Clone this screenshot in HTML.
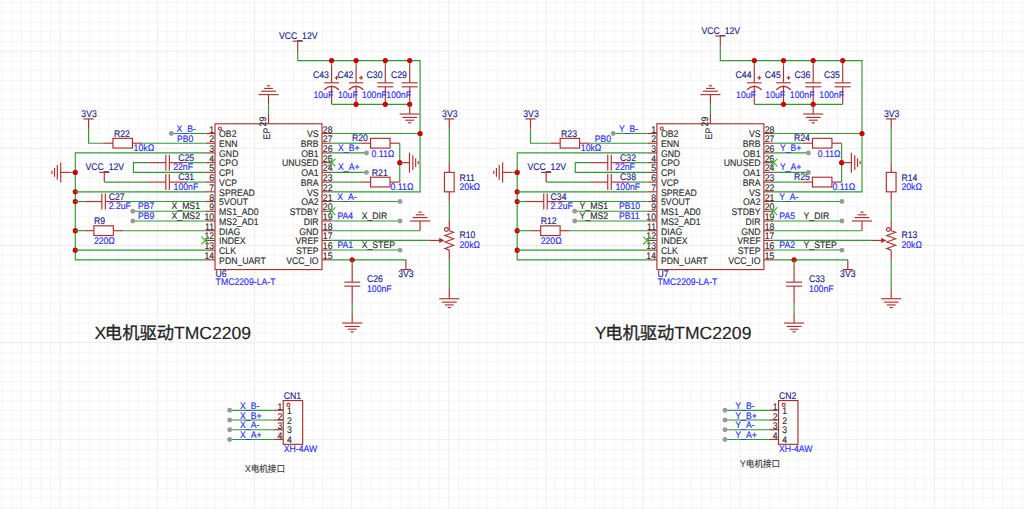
<!DOCTYPE html>
<html><head><meta charset="utf-8"><title>TMC2209 schematic</title>
<style>
html,body{margin:0;padding:0;background:#fff;}
body{width:1024px;height:509px;overflow:hidden;}
svg{display:block;}
text{font-family:"Liberation Sans",sans-serif;font-size:8.7px;stroke-width:0.12px;text-rendering:geometricPrecision;}
text.cjk{font-family:"Liberation Sans","Noto Sans CJK SC",sans-serif;}
</style></head><body>
<svg width="1024" height="509" viewBox="0 0 1024 509">
<rect width="1024" height="509" fill="#fff"/>
<g fill="none"><path d="M2.02 0V509" stroke="#f5f5f5" stroke-width="1"/><path d="M11.74 0V509" stroke="#f5f5f5" stroke-width="1"/><path d="M21.45 0V509" stroke="#f5f5f5" stroke-width="1"/><path d="M31.16 0V509" stroke="#f5f5f5" stroke-width="1"/><path d="M40.87 0V509" stroke="#f5f5f5" stroke-width="1"/><path d="M50.59 0V509" stroke="#f5f5f5" stroke-width="1"/><path d="M60.3 0V509" stroke="#ededed" stroke-width="1"/><path d="M70.01 0V509" stroke="#f5f5f5" stroke-width="1"/><path d="M79.73 0V509" stroke="#f5f5f5" stroke-width="1"/><path d="M89.44 0V509" stroke="#f5f5f5" stroke-width="1"/><path d="M99.15 0V509" stroke="#f5f5f5" stroke-width="1"/><path d="M108.86 0V509" stroke="#f5f5f5" stroke-width="1"/><path d="M118.58 0V509" stroke="#f5f5f5" stroke-width="1"/><path d="M128.29 0V509" stroke="#f5f5f5" stroke-width="1"/><path d="M138 0V509" stroke="#f5f5f5" stroke-width="1"/><path d="M147.72 0V509" stroke="#f5f5f5" stroke-width="1"/><path d="M157.43 0V509" stroke="#ededed" stroke-width="1"/><path d="M167.14 0V509" stroke="#f5f5f5" stroke-width="1"/><path d="M176.86 0V509" stroke="#f5f5f5" stroke-width="1"/><path d="M186.57 0V509" stroke="#f5f5f5" stroke-width="1"/><path d="M196.28 0V509" stroke="#f5f5f5" stroke-width="1"/><path d="M205.99 0V509" stroke="#f5f5f5" stroke-width="1"/><path d="M215.71 0V509" stroke="#f5f5f5" stroke-width="1"/><path d="M225.42 0V509" stroke="#f5f5f5" stroke-width="1"/><path d="M235.13 0V509" stroke="#f5f5f5" stroke-width="1"/><path d="M244.85 0V509" stroke="#f5f5f5" stroke-width="1"/><path d="M254.56 0V509" stroke="#ededed" stroke-width="1"/><path d="M264.27 0V509" stroke="#f5f5f5" stroke-width="1"/><path d="M273.99 0V509" stroke="#f5f5f5" stroke-width="1"/><path d="M283.7 0V509" stroke="#f5f5f5" stroke-width="1"/><path d="M293.41 0V509" stroke="#f5f5f5" stroke-width="1"/><path d="M303.12 0V509" stroke="#f5f5f5" stroke-width="1"/><path d="M312.84 0V509" stroke="#f5f5f5" stroke-width="1"/><path d="M322.55 0V509" stroke="#f5f5f5" stroke-width="1"/><path d="M332.26 0V509" stroke="#f5f5f5" stroke-width="1"/><path d="M341.98 0V509" stroke="#f5f5f5" stroke-width="1"/><path d="M351.69 0V509" stroke="#ededed" stroke-width="1"/><path d="M361.4 0V509" stroke="#f5f5f5" stroke-width="1"/><path d="M371.12 0V509" stroke="#f5f5f5" stroke-width="1"/><path d="M380.83 0V509" stroke="#f5f5f5" stroke-width="1"/><path d="M390.54 0V509" stroke="#f5f5f5" stroke-width="1"/><path d="M400.26 0V509" stroke="#f5f5f5" stroke-width="1"/><path d="M409.97 0V509" stroke="#f5f5f5" stroke-width="1"/><path d="M419.68 0V509" stroke="#f5f5f5" stroke-width="1"/><path d="M429.39 0V509" stroke="#f5f5f5" stroke-width="1"/><path d="M439.11 0V509" stroke="#f5f5f5" stroke-width="1"/><path d="M448.82 0V509" stroke="#ededed" stroke-width="1"/><path d="M458.53 0V509" stroke="#f5f5f5" stroke-width="1"/><path d="M468.25 0V509" stroke="#f5f5f5" stroke-width="1"/><path d="M477.96 0V509" stroke="#f5f5f5" stroke-width="1"/><path d="M487.67 0V509" stroke="#f5f5f5" stroke-width="1"/><path d="M497.39 0V509" stroke="#f5f5f5" stroke-width="1"/><path d="M507.1 0V509" stroke="#f5f5f5" stroke-width="1"/><path d="M516.81 0V509" stroke="#f5f5f5" stroke-width="1"/><path d="M526.52 0V509" stroke="#f5f5f5" stroke-width="1"/><path d="M536.24 0V509" stroke="#f5f5f5" stroke-width="1"/><path d="M545.95 0V509" stroke="#ededed" stroke-width="1"/><path d="M555.66 0V509" stroke="#f5f5f5" stroke-width="1"/><path d="M565.38 0V509" stroke="#f5f5f5" stroke-width="1"/><path d="M575.09 0V509" stroke="#f5f5f5" stroke-width="1"/><path d="M584.8 0V509" stroke="#f5f5f5" stroke-width="1"/><path d="M594.52 0V509" stroke="#f5f5f5" stroke-width="1"/><path d="M604.23 0V509" stroke="#f5f5f5" stroke-width="1"/><path d="M613.94 0V509" stroke="#f5f5f5" stroke-width="1"/><path d="M623.65 0V509" stroke="#f5f5f5" stroke-width="1"/><path d="M633.37 0V509" stroke="#f5f5f5" stroke-width="1"/><path d="M643.08 0V509" stroke="#ededed" stroke-width="1"/><path d="M652.79 0V509" stroke="#f5f5f5" stroke-width="1"/><path d="M662.51 0V509" stroke="#f5f5f5" stroke-width="1"/><path d="M672.22 0V509" stroke="#f5f5f5" stroke-width="1"/><path d="M681.93 0V509" stroke="#f5f5f5" stroke-width="1"/><path d="M691.64 0V509" stroke="#f5f5f5" stroke-width="1"/><path d="M701.36 0V509" stroke="#f5f5f5" stroke-width="1"/><path d="M711.07 0V509" stroke="#f5f5f5" stroke-width="1"/><path d="M720.78 0V509" stroke="#f5f5f5" stroke-width="1"/><path d="M730.5 0V509" stroke="#f5f5f5" stroke-width="1"/><path d="M740.21 0V509" stroke="#ededed" stroke-width="1"/><path d="M749.92 0V509" stroke="#f5f5f5" stroke-width="1"/><path d="M759.64 0V509" stroke="#f5f5f5" stroke-width="1"/><path d="M769.35 0V509" stroke="#f5f5f5" stroke-width="1"/><path d="M779.06 0V509" stroke="#f5f5f5" stroke-width="1"/><path d="M788.77 0V509" stroke="#f5f5f5" stroke-width="1"/><path d="M798.49 0V509" stroke="#f5f5f5" stroke-width="1"/><path d="M808.2 0V509" stroke="#f5f5f5" stroke-width="1"/><path d="M817.91 0V509" stroke="#f5f5f5" stroke-width="1"/><path d="M827.63 0V509" stroke="#f5f5f5" stroke-width="1"/><path d="M837.34 0V509" stroke="#ededed" stroke-width="1"/><path d="M847.05 0V509" stroke="#f5f5f5" stroke-width="1"/><path d="M856.77 0V509" stroke="#f5f5f5" stroke-width="1"/><path d="M866.48 0V509" stroke="#f5f5f5" stroke-width="1"/><path d="M876.19 0V509" stroke="#f5f5f5" stroke-width="1"/><path d="M885.9 0V509" stroke="#f5f5f5" stroke-width="1"/><path d="M895.62 0V509" stroke="#f5f5f5" stroke-width="1"/><path d="M905.33 0V509" stroke="#f5f5f5" stroke-width="1"/><path d="M915.04 0V509" stroke="#f5f5f5" stroke-width="1"/><path d="M924.76 0V509" stroke="#f5f5f5" stroke-width="1"/><path d="M934.47 0V509" stroke="#ededed" stroke-width="1"/><path d="M944.18 0V509" stroke="#f5f5f5" stroke-width="1"/><path d="M953.9 0V509" stroke="#f5f5f5" stroke-width="1"/><path d="M963.61 0V509" stroke="#f5f5f5" stroke-width="1"/><path d="M973.32 0V509" stroke="#f5f5f5" stroke-width="1"/><path d="M983.03 0V509" stroke="#f5f5f5" stroke-width="1"/><path d="M992.75 0V509" stroke="#f5f5f5" stroke-width="1"/><path d="M1002.46 0V509" stroke="#f5f5f5" stroke-width="1"/><path d="M1012.17 0V509" stroke="#f5f5f5" stroke-width="1"/><path d="M1021.89 0V509" stroke="#f5f5f5" stroke-width="1"/><path d="M0 2.64H1024" stroke="#f5f5f5" stroke-width="1"/><path d="M0 12.35H1024" stroke="#f5f5f5" stroke-width="1"/><path d="M0 22.06H1024" stroke="#f5f5f5" stroke-width="1"/><path d="M0 31.77H1024" stroke="#f5f5f5" stroke-width="1"/><path d="M0 41.49H1024" stroke="#f5f5f5" stroke-width="1"/><path d="M0 51.2H1024" stroke="#ededed" stroke-width="1"/><path d="M0 60.91H1024" stroke="#f5f5f5" stroke-width="1"/><path d="M0 70.63H1024" stroke="#f5f5f5" stroke-width="1"/><path d="M0 80.34H1024" stroke="#f5f5f5" stroke-width="1"/><path d="M0 90.05H1024" stroke="#f5f5f5" stroke-width="1"/><path d="M0 99.76H1024" stroke="#f5f5f5" stroke-width="1"/><path d="M0 109.48H1024" stroke="#f5f5f5" stroke-width="1"/><path d="M0 119.19H1024" stroke="#f5f5f5" stroke-width="1"/><path d="M0 128.9H1024" stroke="#f5f5f5" stroke-width="1"/><path d="M0 138.62H1024" stroke="#f5f5f5" stroke-width="1"/><path d="M0 148.33H1024" stroke="#ededed" stroke-width="1"/><path d="M0 158.04H1024" stroke="#f5f5f5" stroke-width="1"/><path d="M0 167.76H1024" stroke="#f5f5f5" stroke-width="1"/><path d="M0 177.47H1024" stroke="#f5f5f5" stroke-width="1"/><path d="M0 187.18H1024" stroke="#f5f5f5" stroke-width="1"/><path d="M0 196.89H1024" stroke="#f5f5f5" stroke-width="1"/><path d="M0 206.61H1024" stroke="#f5f5f5" stroke-width="1"/><path d="M0 216.32H1024" stroke="#f5f5f5" stroke-width="1"/><path d="M0 226.03H1024" stroke="#f5f5f5" stroke-width="1"/><path d="M0 235.75H1024" stroke="#f5f5f5" stroke-width="1"/><path d="M0 245.46H1024" stroke="#ededed" stroke-width="1"/><path d="M0 255.17H1024" stroke="#f5f5f5" stroke-width="1"/><path d="M0 264.89H1024" stroke="#f5f5f5" stroke-width="1"/><path d="M0 274.6H1024" stroke="#f5f5f5" stroke-width="1"/><path d="M0 284.31H1024" stroke="#f5f5f5" stroke-width="1"/><path d="M0 294.02H1024" stroke="#f5f5f5" stroke-width="1"/><path d="M0 303.74H1024" stroke="#f5f5f5" stroke-width="1"/><path d="M0 313.45H1024" stroke="#f5f5f5" stroke-width="1"/><path d="M0 323.16H1024" stroke="#f5f5f5" stroke-width="1"/><path d="M0 332.88H1024" stroke="#f5f5f5" stroke-width="1"/><path d="M0 342.59H1024" stroke="#ededed" stroke-width="1"/><path d="M0 352.3H1024" stroke="#f5f5f5" stroke-width="1"/><path d="M0 362.02H1024" stroke="#f5f5f5" stroke-width="1"/><path d="M0 371.73H1024" stroke="#f5f5f5" stroke-width="1"/><path d="M0 381.44H1024" stroke="#f5f5f5" stroke-width="1"/><path d="M0 391.16H1024" stroke="#f5f5f5" stroke-width="1"/><path d="M0 400.87H1024" stroke="#f5f5f5" stroke-width="1"/><path d="M0 410.58H1024" stroke="#f5f5f5" stroke-width="1"/><path d="M0 420.29H1024" stroke="#f5f5f5" stroke-width="1"/><path d="M0 430.01H1024" stroke="#f5f5f5" stroke-width="1"/><path d="M0 439.72H1024" stroke="#ededed" stroke-width="1"/><path d="M0 449.43H1024" stroke="#f5f5f5" stroke-width="1"/><path d="M0 459.15H1024" stroke="#f5f5f5" stroke-width="1"/><path d="M0 468.86H1024" stroke="#f5f5f5" stroke-width="1"/><path d="M0 478.57H1024" stroke="#f5f5f5" stroke-width="1"/><path d="M0 488.29H1024" stroke="#f5f5f5" stroke-width="1"/><path d="M0 498H1024" stroke="#f5f5f5" stroke-width="1"/><path d="M0 507.71H1024" stroke="#f5f5f5" stroke-width="1"/></g>
<g fill="none" stroke-linecap="butt">
<g transform="translate(0 0)">
<rect x="215" y="123.78" width="107" height="145.8" stroke="#ad3030" stroke-width="1.15" fill="none"/>
<circle cx="219.9" cy="128.6" r="1.55" stroke="#ad3030" stroke-width="1.1" fill="none"/>
<path d="M205.8 133.5L215 133.5" stroke="#ad3030" stroke-width="1.15" fill="none"/>
<path d="M322 133.5L331.6 133.5" stroke="#ad3030" stroke-width="1.15" fill="none"/>
<text transform="translate(214.1 132.5) scale(1 1.1)" fill="#2b2b2b" stroke="#2b2b2b" text-anchor="end">1</text>
<text transform="translate(322.8 132.5) scale(1 1.1)" fill="#2b2b2b" stroke="#2b2b2b">28</text>
<text transform="translate(219.1 137.3) scale(1 1.1)" fill="#2b2b2b" stroke="#2b2b2b">OB2</text>
<text transform="translate(318.6 137.3) scale(1 1.1)" fill="#2b2b2b" stroke="#2b2b2b" text-anchor="end">VS</text>
<path d="M205.8 143.22L215 143.22" stroke="#ad3030" stroke-width="1.15" fill="none"/>
<path d="M322 143.22L331.6 143.22" stroke="#ad3030" stroke-width="1.15" fill="none"/>
<text transform="translate(214.1 142.22) scale(1 1.1)" fill="#2b2b2b" stroke="#2b2b2b" text-anchor="end">2</text>
<text transform="translate(322.8 142.22) scale(1 1.1)" fill="#2b2b2b" stroke="#2b2b2b">27</text>
<text transform="translate(219.1 147.02) scale(1 1.1)" fill="#2b2b2b" stroke="#2b2b2b">ENN</text>
<text transform="translate(318.6 147.02) scale(1 1.1)" fill="#2b2b2b" stroke="#2b2b2b" text-anchor="end">BRB</text>
<path d="M205.8 152.94L215 152.94" stroke="#ad3030" stroke-width="1.15" fill="none"/>
<path d="M322 152.94L331.6 152.94" stroke="#ad3030" stroke-width="1.15" fill="none"/>
<text transform="translate(214.1 151.94) scale(1 1.1)" fill="#2b2b2b" stroke="#2b2b2b" text-anchor="end">3</text>
<text transform="translate(322.8 151.94) scale(1 1.1)" fill="#2b2b2b" stroke="#2b2b2b">26</text>
<text transform="translate(219.1 156.74) scale(1 1.1)" fill="#2b2b2b" stroke="#2b2b2b">GND</text>
<text transform="translate(318.6 156.74) scale(1 1.1)" fill="#2b2b2b" stroke="#2b2b2b" text-anchor="end">OB1</text>
<path d="M205.8 162.66L215 162.66" stroke="#ad3030" stroke-width="1.15" fill="none"/>
<path d="M322 162.66L331.6 162.66" stroke="#ad3030" stroke-width="1.15" fill="none"/>
<text transform="translate(214.1 161.66) scale(1 1.1)" fill="#2b2b2b" stroke="#2b2b2b" text-anchor="end">4</text>
<text transform="translate(322.8 161.66) scale(1 1.1)" fill="#2b2b2b" stroke="#2b2b2b">25</text>
<text transform="translate(219.1 166.46) scale(1 1.1)" fill="#2b2b2b" stroke="#2b2b2b">CPO</text>
<text transform="translate(318.6 166.46) scale(1 1.1)" fill="#2b2b2b" stroke="#2b2b2b" text-anchor="end">UNUSED</text>
<path d="M205.8 172.38L215 172.38" stroke="#ad3030" stroke-width="1.15" fill="none"/>
<path d="M322 172.38L331.6 172.38" stroke="#ad3030" stroke-width="1.15" fill="none"/>
<text transform="translate(214.1 171.38) scale(1 1.1)" fill="#2b2b2b" stroke="#2b2b2b" text-anchor="end">5</text>
<text transform="translate(322.8 171.38) scale(1 1.1)" fill="#2b2b2b" stroke="#2b2b2b">24</text>
<text transform="translate(219.1 176.18) scale(1 1.1)" fill="#2b2b2b" stroke="#2b2b2b">CPI</text>
<text transform="translate(318.6 176.18) scale(1 1.1)" fill="#2b2b2b" stroke="#2b2b2b" text-anchor="end">OA1</text>
<path d="M205.8 182.1L215 182.1" stroke="#ad3030" stroke-width="1.15" fill="none"/>
<path d="M322 182.1L331.6 182.1" stroke="#ad3030" stroke-width="1.15" fill="none"/>
<text transform="translate(214.1 181.1) scale(1 1.1)" fill="#2b2b2b" stroke="#2b2b2b" text-anchor="end">6</text>
<text transform="translate(322.8 181.1) scale(1 1.1)" fill="#2b2b2b" stroke="#2b2b2b">23</text>
<text transform="translate(219.1 185.9) scale(1 1.1)" fill="#2b2b2b" stroke="#2b2b2b">VCP</text>
<text transform="translate(318.6 185.9) scale(1 1.1)" fill="#2b2b2b" stroke="#2b2b2b" text-anchor="end">BRA</text>
<path d="M205.8 191.82L215 191.82" stroke="#ad3030" stroke-width="1.15" fill="none"/>
<path d="M322 191.82L331.6 191.82" stroke="#ad3030" stroke-width="1.15" fill="none"/>
<text transform="translate(214.1 190.82) scale(1 1.1)" fill="#2b2b2b" stroke="#2b2b2b" text-anchor="end">7</text>
<text transform="translate(322.8 190.82) scale(1 1.1)" fill="#2b2b2b" stroke="#2b2b2b">22</text>
<text transform="translate(219.1 195.62) scale(1 1.1)" fill="#2b2b2b" stroke="#2b2b2b">SPREAD</text>
<text transform="translate(318.6 195.62) scale(1 1.1)" fill="#2b2b2b" stroke="#2b2b2b" text-anchor="end">VS</text>
<path d="M205.8 201.54L215 201.54" stroke="#ad3030" stroke-width="1.15" fill="none"/>
<path d="M322 201.54L331.6 201.54" stroke="#ad3030" stroke-width="1.15" fill="none"/>
<text transform="translate(214.1 200.54) scale(1 1.1)" fill="#2b2b2b" stroke="#2b2b2b" text-anchor="end">8</text>
<text transform="translate(322.8 200.54) scale(1 1.1)" fill="#2b2b2b" stroke="#2b2b2b">21</text>
<text transform="translate(219.1 205.34) scale(1 1.1)" fill="#2b2b2b" stroke="#2b2b2b">5VOUT</text>
<text transform="translate(318.6 205.34) scale(1 1.1)" fill="#2b2b2b" stroke="#2b2b2b" text-anchor="end">OA2</text>
<path d="M205.8 211.26L215 211.26" stroke="#ad3030" stroke-width="1.15" fill="none"/>
<path d="M322 211.26L331.6 211.26" stroke="#ad3030" stroke-width="1.15" fill="none"/>
<text transform="translate(214.1 210.26) scale(1 1.1)" fill="#2b2b2b" stroke="#2b2b2b" text-anchor="end">9</text>
<text transform="translate(322.8 210.26) scale(1 1.1)" fill="#2b2b2b" stroke="#2b2b2b">20</text>
<text transform="translate(219.1 215.06) scale(1 1.1)" fill="#2b2b2b" stroke="#2b2b2b">MS1_AD0</text>
<text transform="translate(318.6 215.06) scale(1 1.1)" fill="#2b2b2b" stroke="#2b2b2b" text-anchor="end">STDBY</text>
<path d="M205.8 220.98L215 220.98" stroke="#ad3030" stroke-width="1.15" fill="none"/>
<path d="M322 220.98L331.6 220.98" stroke="#ad3030" stroke-width="1.15" fill="none"/>
<text transform="translate(214.1 219.98) scale(1 1.1)" fill="#2b2b2b" stroke="#2b2b2b" text-anchor="end">10</text>
<text transform="translate(322.8 219.98) scale(1 1.1)" fill="#2b2b2b" stroke="#2b2b2b">19</text>
<text transform="translate(219.1 224.78) scale(1 1.1)" fill="#2b2b2b" stroke="#2b2b2b">MS2_AD1</text>
<text transform="translate(318.6 224.78) scale(1 1.1)" fill="#2b2b2b" stroke="#2b2b2b" text-anchor="end">DIR</text>
<path d="M205.8 230.7L215 230.7" stroke="#ad3030" stroke-width="1.15" fill="none"/>
<path d="M322 230.7L331.6 230.7" stroke="#ad3030" stroke-width="1.15" fill="none"/>
<text transform="translate(214.1 229.7) scale(1 1.1)" fill="#2b2b2b" stroke="#2b2b2b" text-anchor="end">11</text>
<text transform="translate(322.8 229.7) scale(1 1.1)" fill="#2b2b2b" stroke="#2b2b2b">18</text>
<text transform="translate(219.1 234.5) scale(1 1.1)" fill="#2b2b2b" stroke="#2b2b2b">DIAG</text>
<text transform="translate(318.6 234.5) scale(1 1.1)" fill="#2b2b2b" stroke="#2b2b2b" text-anchor="end">GND</text>
<path d="M205.8 240.42L215 240.42" stroke="#ad3030" stroke-width="1.15" fill="none"/>
<path d="M322 240.42L331.6 240.42" stroke="#ad3030" stroke-width="1.15" fill="none"/>
<text transform="translate(214.1 239.42) scale(1 1.1)" fill="#2b2b2b" stroke="#2b2b2b" text-anchor="end">12</text>
<text transform="translate(322.8 239.42) scale(1 1.1)" fill="#2b2b2b" stroke="#2b2b2b">17</text>
<text transform="translate(219.1 244.22) scale(1 1.1)" fill="#2b2b2b" stroke="#2b2b2b">INDEX</text>
<text transform="translate(318.6 244.22) scale(1 1.1)" fill="#2b2b2b" stroke="#2b2b2b" text-anchor="end">VREF</text>
<path d="M205.8 250.14L215 250.14" stroke="#ad3030" stroke-width="1.15" fill="none"/>
<path d="M322 250.14L331.6 250.14" stroke="#ad3030" stroke-width="1.15" fill="none"/>
<text transform="translate(214.1 249.14) scale(1 1.1)" fill="#2b2b2b" stroke="#2b2b2b" text-anchor="end">13</text>
<text transform="translate(322.8 249.14) scale(1 1.1)" fill="#2b2b2b" stroke="#2b2b2b">16</text>
<text transform="translate(219.1 253.94) scale(1 1.1)" fill="#2b2b2b" stroke="#2b2b2b">CLK</text>
<text transform="translate(318.6 253.94) scale(1 1.1)" fill="#2b2b2b" stroke="#2b2b2b" text-anchor="end">STEP</text>
<path d="M205.8 259.86L215 259.86" stroke="#ad3030" stroke-width="1.15" fill="none"/>
<path d="M322 259.86L331.6 259.86" stroke="#ad3030" stroke-width="1.15" fill="none"/>
<text transform="translate(214.1 258.86) scale(1 1.1)" fill="#2b2b2b" stroke="#2b2b2b" text-anchor="end">14</text>
<text transform="translate(322.8 258.86) scale(1 1.1)" fill="#2b2b2b" stroke="#2b2b2b">15</text>
<text transform="translate(219.1 263.66) scale(1 1.1)" fill="#2b2b2b" stroke="#2b2b2b">PDN_UART</text>
<text transform="translate(318.6 263.66) scale(1 1.1)" fill="#2b2b2b" stroke="#2b2b2b" text-anchor="end">VCC_IO</text>
<text transform="translate(215.6 276.6) scale(1 1.1)" fill="#20208a" stroke="#20208a">U6</text>
<text transform="translate(215.6 285.2) scale(1 1.1)" fill="#2a2aff" stroke="#2a2aff">TMC2209-LA-T</text>
<path d="M268.5 123.78L268.5 114.06" stroke="#ad3030" stroke-width="1.15" fill="none"/>
<path d="M268.5 114.06L268.5 104.34" stroke="#2f9a35" stroke-width="1.15" fill="none"/>
<path d="M268.5 104.34L268.5 94.62" stroke="#ad3030" stroke-width="1.15" fill="none"/>
<path d="M258.5 94.62L278.5 94.62" stroke="#ad3030" stroke-width="1.15" fill="none"/>
<path d="M261.1 91.22L275.9 91.22" stroke="#ad3030" stroke-width="1.15" fill="none"/>
<path d="M264.1 88.42L272.9 88.42" stroke="#ad3030" stroke-width="1.15" fill="none"/>
<path d="M266.9 85.82L270.1 85.82" stroke="#ad3030" stroke-width="1.15" fill="none"/>
<text transform="translate(265.9 126.38) rotate(-90) scale(1 1.1)" fill="#2b2b2b" stroke="#2b2b2b">29</text>
<text transform="translate(269.7 139.38) rotate(-90) scale(1 1.1)" fill="#2b2b2b" stroke="#2b2b2b">EP</text>
<path d="M88.6 128.64L88.6 118.92" stroke="#ad3030" stroke-width="1.15" fill="none"/>
<path d="M83.5 118.92L93.7 118.92" stroke="#ad3030" stroke-width="1.15" fill="none"/>
<text transform="translate(89.1 117.42) scale(1 1.1)" fill="#20208a" stroke="#20208a" text-anchor="middle">3V3</text>
<path d="M88.6 128.64L88.6 143.22L103.26 143.22" stroke="#2f9a35" stroke-width="1.15" fill="none"/>
<path d="M103.26 143.22L112.98 143.22" stroke="#ad3030" stroke-width="1.15" fill="none"/>
<path d="M132.42 143.22L142.14 143.22" stroke="#ad3030" stroke-width="1.15" fill="none"/>
<rect x="112.98" y="138.36" width="19.44" height="9.72" stroke="#ad3030" stroke-width="1.15" fill="none"/>
<text transform="translate(113.88 136.92) scale(1 1.1)" fill="#20208a" stroke="#20208a">R22</text>
<text transform="translate(133.62 151.32) scale(1 1.1)" fill="#2a2aff" stroke="#2a2aff">10kΩ</text>
<path d="M142.14 143.22L205.8 143.22" stroke="#2f9a35" stroke-width="1.15" fill="none"/>
<path d="M171.3 133.5L205.8 133.5" stroke="#2f9a35" stroke-width="1.15" fill="none"/>
<circle cx="171.3" cy="133.5" r="2.45" fill="#999999"/>
<text transform="translate(176.6 131.5) scale(1 1.1)" fill="#2a2aff" stroke="#2a2aff">X_B-</text>
<text transform="translate(177 141.8) scale(1 1.1)" fill="#2a2aff" stroke="#2a2aff">PB0</text>
<path d="M205.8 152.94L75.3 152.94L75.3 259.86L205.8 259.86" stroke="#2f9a35" stroke-width="1.15" fill="none"/>
<path d="M75.3 172.38L70.44 172.38" stroke="#2f9a35" stroke-width="1.15" fill="none"/>
<path d="M70.44 172.38L60.72 172.38" stroke="#ad3030" stroke-width="1.15" fill="none"/>
<path d="M60.72 182.38L60.72 162.38" stroke="#ad3030" stroke-width="1.15" fill="none"/>
<path d="M57.32 179.78L57.32 164.98" stroke="#ad3030" stroke-width="1.15" fill="none"/>
<path d="M54.52 176.78L54.52 167.98" stroke="#ad3030" stroke-width="1.15" fill="none"/>
<path d="M51.92 173.98L51.92 170.78" stroke="#ad3030" stroke-width="1.15" fill="none"/>
<circle cx="75.3" cy="172.38" r="2.6" fill="#cc0000"/>
<circle cx="75.3" cy="191.82" r="2.6" fill="#cc0000"/>
<circle cx="75.3" cy="201.54" r="2.6" fill="#cc0000"/>
<circle cx="75.3" cy="230.7" r="2.6" fill="#cc0000"/>
<circle cx="75.3" cy="250.14" r="2.6" fill="#cc0000"/>
<path d="M205.8 162.66L187.04 162.66" stroke="#2f9a35" stroke-width="1.15" fill="none"/>
<path d="M148.16 162.66L165.85 162.66" stroke="#ad3030" stroke-width="1.15" fill="none"/>
<path d="M169.35 162.66L187.04 162.66" stroke="#ad3030" stroke-width="1.15" fill="none"/>
<path d="M165.85 154.66L165.85 170.66" stroke="#ad3030" stroke-width="1.15" fill="none"/>
<path d="M169.35 154.66L169.35 170.66" stroke="#ad3030" stroke-width="1.15" fill="none"/>
<path d="M148.16 162.66L133.4 162.66L133.4 172.38L205.8 172.38" stroke="#2f9a35" stroke-width="1.15" fill="none"/>
<text transform="translate(178.2 160.66) scale(1 1.1)" fill="#20208a" stroke="#20208a">C25</text>
<text transform="translate(173.2 170.46) scale(1 1.1)" fill="#2a2aff" stroke="#2a2aff">22nF</text>
<path d="M205.8 182.1L187.04 182.1" stroke="#2f9a35" stroke-width="1.15" fill="none"/>
<path d="M148.16 182.1L165.85 182.1" stroke="#ad3030" stroke-width="1.15" fill="none"/>
<path d="M169.35 182.1L187.04 182.1" stroke="#ad3030" stroke-width="1.15" fill="none"/>
<path d="M165.85 174.1L165.85 190.1" stroke="#ad3030" stroke-width="1.15" fill="none"/>
<path d="M169.35 174.1L169.35 190.1" stroke="#ad3030" stroke-width="1.15" fill="none"/>
<path d="M148.16 182.1L104.3 182.1" stroke="#2f9a35" stroke-width="1.15" fill="none"/>
<path d="M104.3 182.1L104.3 172.38" stroke="#ad3030" stroke-width="1.15" fill="none"/>
<path d="M99.2 172.38L109.4 172.38" stroke="#ad3030" stroke-width="1.15" fill="none"/>
<text transform="translate(104.8 169.98) scale(1 1.1)" fill="#20208a" stroke="#20208a" text-anchor="middle">VCC_12V</text>
<text transform="translate(178.2 180.1) scale(1 1.1)" fill="#20208a" stroke="#20208a">C31</text>
<text transform="translate(173.6 189.7) scale(1 1.1)" fill="#2a2aff" stroke="#2a2aff">100nF</text>
<path d="M205.8 191.82L75.3 191.82" stroke="#2f9a35" stroke-width="1.15" fill="none"/>
<path d="M205.8 201.54L123.04 201.54" stroke="#2f9a35" stroke-width="1.15" fill="none"/>
<path d="M84.16 201.54L101.85 201.54" stroke="#ad3030" stroke-width="1.15" fill="none"/>
<path d="M105.35 201.54L123.04 201.54" stroke="#ad3030" stroke-width="1.15" fill="none"/>
<path d="M101.85 193.54L101.85 209.54" stroke="#ad3030" stroke-width="1.15" fill="none"/>
<path d="M105.35 193.54L105.35 209.54" stroke="#ad3030" stroke-width="1.15" fill="none"/>
<path d="M84.16 201.54L75.3 201.54" stroke="#2f9a35" stroke-width="1.15" fill="none"/>
<text transform="translate(108.7 199.54) scale(1 1.1)" fill="#20208a" stroke="#20208a">C27</text>
<text transform="translate(108.7 209.34) scale(1 1.1)" fill="#2a2aff" stroke="#2a2aff">2.2uF</text>
<path d="M132.8 211.26L205.8 211.26" stroke="#2f9a35" stroke-width="1.15" fill="none"/>
<circle cx="132.8" cy="211.26" r="2.45" fill="#999999"/>
<path d="M132.8 220.98L205.8 220.98" stroke="#2f9a35" stroke-width="1.15" fill="none"/>
<circle cx="132.8" cy="220.98" r="2.45" fill="#999999"/>
<text transform="translate(138 209.26) scale(1 1.1)" fill="#2a2aff" stroke="#2a2aff">PB7</text>
<text transform="translate(138 218.98) scale(1 1.1)" fill="#2a2aff" stroke="#2a2aff">PB9</text>
<text transform="translate(171.5 209.26) scale(1 1.1)" fill="#2b2b2b" stroke="#2b2b2b">X_MS1</text>
<text transform="translate(171.5 218.98) scale(1 1.1)" fill="#2b2b2b" stroke="#2b2b2b">X_MS2</text>
<path d="M205.8 230.7L123.04 230.7" stroke="#2f9a35" stroke-width="1.15" fill="none"/>
<path d="M84.16 230.7L75.3 230.7" stroke="#2f9a35" stroke-width="1.15" fill="none"/>
<path d="M84.16 230.7L93.88 230.7" stroke="#ad3030" stroke-width="1.15" fill="none"/>
<path d="M113.32 230.7L123.04 230.7" stroke="#ad3030" stroke-width="1.15" fill="none"/>
<rect x="93.88" y="225.84" width="19.44" height="9.72" stroke="#ad3030" stroke-width="1.15" fill="none"/>
<text transform="translate(93.88 223.9) scale(1 1.1)" fill="#20208a" stroke="#20208a">R9</text>
<text transform="translate(93.88 243.6) scale(1 1.1)" fill="#2a2aff" stroke="#2a2aff">220Ω</text>
<path d="M201.4 236.62L209 244.22" stroke="#2fb02f" stroke-width="1.15"/>
<path d="M201.4 244.22L209 236.62" stroke="#2fb02f" stroke-width="1.15"/>
<path d="M205.8 250.14L75.3 250.14" stroke="#2f9a35" stroke-width="1.15" fill="none"/>
<path d="M297.7 50.92L297.7 41.2" stroke="#ad3030" stroke-width="1.15" fill="none"/>
<path d="M292.6 41.2L302.8 41.2" stroke="#ad3030" stroke-width="1.15" fill="none"/>
<text transform="translate(298.2 38.8) scale(1 1.1)" fill="#20208a" stroke="#20208a" text-anchor="middle">VCC_12V</text>
<path d="M297.7 50.92L297.7 60.6L420.1 60.6L420.1 191.82L331.6 191.82" stroke="#2f9a35" stroke-width="1.15" fill="none"/>
<path d="M331.6 60.6L331.6 65.36" stroke="#2f9a35" stroke-width="1.15" fill="none"/>
<path d="M331.6 65.36L331.6 82.8" stroke="#ad3030" stroke-width="1.15" fill="none"/>
<path d="M331.6 86.8L331.6 104.24" stroke="#ad3030" stroke-width="1.15" fill="none"/>
<path d="M324.3 82.8L338.9 82.8" stroke="#ad3030" stroke-width="1.15" fill="none"/>
<path d="M324.3 89.8Q331.6 82.8 338.9 89.8" stroke="#ad3030" stroke-width="1.3" fill="none"/>
<path d="M334.6 77.8L338.6 77.8" stroke="#ad3030" stroke-width="1.15" fill="none"/>
<path d="M336.6 75.8L336.6 79.8" stroke="#ad3030" stroke-width="1.15" fill="none"/>
<circle cx="331.6" cy="60.6" r="2.6" fill="#cc0000"/>
<text transform="translate(312.9 78.4) scale(1 1.1)" fill="#20208a" stroke="#20208a">C43</text>
<text transform="translate(313.4 97.9) scale(1 1.1)" fill="#2a2aff" stroke="#2a2aff">10uF</text>
<path d="M356.1 60.6L356.1 65.36" stroke="#2f9a35" stroke-width="1.15" fill="none"/>
<path d="M356.1 65.36L356.1 82.8" stroke="#ad3030" stroke-width="1.15" fill="none"/>
<path d="M356.1 86.8L356.1 104.24" stroke="#ad3030" stroke-width="1.15" fill="none"/>
<path d="M348.8 82.8L363.4 82.8" stroke="#ad3030" stroke-width="1.15" fill="none"/>
<path d="M348.8 89.8Q356.1 82.8 363.4 89.8" stroke="#ad3030" stroke-width="1.3" fill="none"/>
<path d="M359.1 77.8L363.1 77.8" stroke="#ad3030" stroke-width="1.15" fill="none"/>
<path d="M361.1 75.8L361.1 79.8" stroke="#ad3030" stroke-width="1.15" fill="none"/>
<circle cx="356.1" cy="60.6" r="2.6" fill="#cc0000"/>
<text transform="translate(337.4 78.4) scale(1 1.1)" fill="#20208a" stroke="#20208a">C42</text>
<text transform="translate(337.9 97.9) scale(1 1.1)" fill="#2a2aff" stroke="#2a2aff">10uF</text>
<path d="M385.3 60.6L385.3 65.36" stroke="#2f9a35" stroke-width="1.15" fill="none"/>
<path d="M385.3 65.36L385.3 82.8" stroke="#ad3030" stroke-width="1.15" fill="none"/>
<path d="M385.3 86.8L385.3 104.24" stroke="#ad3030" stroke-width="1.15" fill="none"/>
<path d="M377.3 82.8L393.3 82.8" stroke="#ad3030" stroke-width="1.15" fill="none"/>
<path d="M377.3 86.8L393.3 86.8" stroke="#ad3030" stroke-width="1.15" fill="none"/>
<circle cx="385.3" cy="60.6" r="2.6" fill="#cc0000"/>
<text transform="translate(366.6 78.4) scale(1 1.1)" fill="#20208a" stroke="#20208a">C30</text>
<text transform="translate(361.9 97.9) scale(1 1.1)" fill="#2a2aff" stroke="#2a2aff">100nF</text>
<path d="M409.7 60.6L409.7 65.36" stroke="#2f9a35" stroke-width="1.15" fill="none"/>
<path d="M409.7 65.36L409.7 82.8" stroke="#ad3030" stroke-width="1.15" fill="none"/>
<path d="M409.7 86.8L409.7 104.24" stroke="#ad3030" stroke-width="1.15" fill="none"/>
<path d="M401.7 82.8L417.7 82.8" stroke="#ad3030" stroke-width="1.15" fill="none"/>
<path d="M401.7 86.8L417.7 86.8" stroke="#ad3030" stroke-width="1.15" fill="none"/>
<circle cx="409.7" cy="60.6" r="2.6" fill="#cc0000"/>
<text transform="translate(391 78.4) scale(1 1.1)" fill="#20208a" stroke="#20208a">C29</text>
<text transform="translate(386.3 97.9) scale(1 1.1)" fill="#2a2aff" stroke="#2a2aff">100nF</text>
<path d="M331.6 104.3L409.7 104.3" stroke="#2f9a35" stroke-width="1.15" fill="none"/>
<circle cx="356.1" cy="104.3" r="2.6" fill="#cc0000"/>
<circle cx="385.3" cy="104.3" r="2.6" fill="#cc0000"/>
<circle cx="409.7" cy="104.3" r="2.6" fill="#cc0000"/>
<path d="M409.7 104.3L409.7 114.02" stroke="#ad3030" stroke-width="1.15" fill="none"/>
<path d="M419.7 114.02L399.7 114.02" stroke="#ad3030" stroke-width="1.15" fill="none"/>
<path d="M417.1 117.42L402.3 117.42" stroke="#ad3030" stroke-width="1.15" fill="none"/>
<path d="M414.1 120.22L405.3 120.22" stroke="#ad3030" stroke-width="1.15" fill="none"/>
<path d="M411.3 122.82L408.1 122.82" stroke="#ad3030" stroke-width="1.15" fill="none"/>
<path d="M331.6 133.5L420.1 133.5" stroke="#2f9a35" stroke-width="1.15" fill="none"/>
<circle cx="420.1" cy="133.5" r="2.6" fill="#cc0000"/>
<path d="M331.6 143.22L360.86 143.22" stroke="#2f9a35" stroke-width="1.15" fill="none"/>
<path d="M360.86 143.22L370.58 143.22" stroke="#ad3030" stroke-width="1.15" fill="none"/>
<path d="M390.02 143.22L399.74 143.22" stroke="#ad3030" stroke-width="1.15" fill="none"/>
<rect x="370.58" y="138.36" width="19.44" height="9.72" stroke="#ad3030" stroke-width="1.15" fill="none"/>
<text transform="translate(352 141.22) scale(1 1.1)" fill="#20208a" stroke="#20208a">R20</text>
<text transform="translate(371.58 156.72) scale(1 1.1)" fill="#2a2aff" stroke="#2a2aff">0.11Ω</text>
<path d="M331.6 182.1L360.86 182.1" stroke="#2f9a35" stroke-width="1.15" fill="none"/>
<path d="M360.86 182.1L370.58 182.1" stroke="#ad3030" stroke-width="1.15" fill="none"/>
<path d="M390.02 182.1L399.74 182.1" stroke="#ad3030" stroke-width="1.15" fill="none"/>
<rect x="370.58" y="177.24" width="19.44" height="9.72" stroke="#ad3030" stroke-width="1.15" fill="none"/>
<text transform="translate(371.78 175.5) scale(1 1.1)" fill="#20208a" stroke="#20208a">R21</text>
<text transform="translate(390.62 189.7) scale(1 1.1)" fill="#2a2aff" stroke="#2a2aff">0.11Ω</text>
<path d="M399.74 143.22L399.74 182.1" stroke="#2f9a35" stroke-width="1.15" fill="none"/>
<circle cx="399.74" cy="162.66" r="2.6" fill="#cc0000"/>
<path d="M399.74 162.66L409.46 162.66" stroke="#ad3030" stroke-width="1.15" fill="none"/>
<path d="M409.46 152.66L409.46 172.66" stroke="#ad3030" stroke-width="1.15" fill="none"/>
<path d="M412.86 155.26L412.86 170.06" stroke="#ad3030" stroke-width="1.15" fill="none"/>
<path d="M415.66 158.26L415.66 167.06" stroke="#ad3030" stroke-width="1.15" fill="none"/>
<path d="M418.26 161.06L418.26 164.26" stroke="#ad3030" stroke-width="1.15" fill="none"/>
<path d="M331.6 152.94L366.5 152.94" stroke="#2f9a35" stroke-width="1.15" fill="none"/>
<circle cx="366.5" cy="152.94" r="2.45" fill="#999999"/>
<text transform="translate(338 151.04) scale(1 1.1)" fill="#2a2aff" stroke="#2a2aff">X_B+</text>
<path d="M331.6 172.38L366.5 172.38" stroke="#2f9a35" stroke-width="1.15" fill="none"/>
<circle cx="366.5" cy="172.38" r="2.45" fill="#999999"/>
<text transform="translate(338 170.48) scale(1 1.1)" fill="#2a2aff" stroke="#2a2aff">X_A+</text>
<path d="M327.8 158.86L335.4 166.46" stroke="#2fb02f" stroke-width="1.15"/>
<path d="M327.8 166.46L335.4 158.86" stroke="#2fb02f" stroke-width="1.15"/>
<path d="M327.8 207.46L335.4 215.06" stroke="#2fb02f" stroke-width="1.15"/>
<path d="M327.8 215.06L335.4 207.46" stroke="#2fb02f" stroke-width="1.15"/>
<path d="M331.6 201.54L400 201.54" stroke="#2f9a35" stroke-width="1.15" fill="none"/>
<circle cx="400" cy="201.54" r="2.45" fill="#999999"/>
<text transform="translate(337.3 199.64) scale(1 1.1)" fill="#2a2aff" stroke="#2a2aff">X_A-</text>
<path d="M331.6 220.98L400 220.98" stroke="#2f9a35" stroke-width="1.15" fill="none"/>
<circle cx="400" cy="220.98" r="2.45" fill="#999999"/>
<text transform="translate(337.4 219.28) scale(1 1.1)" fill="#2a2aff" stroke="#2a2aff">PA4</text>
<text transform="translate(361.7 219.28) scale(1 1.1)" fill="#2b2b2b" stroke="#2b2b2b">X_DIR</text>
<path d="M331.6 250.04L400 250.04" stroke="#2f9a35" stroke-width="1.15" fill="none"/>
<circle cx="400" cy="250.14" r="2.45" fill="#999999"/>
<text transform="translate(337.4 248.44) scale(1 1.1)" fill="#2a2aff" stroke="#2a2aff">PA1</text>
<text transform="translate(361.7 248.44) scale(1 1.1)" fill="#2b2b2b" stroke="#2b2b2b">X_STEP</text>
<path d="M331.6 230.7L420.1 230.7" stroke="#2f9a35" stroke-width="1.15" fill="none"/>
<path d="M420.1 230.7L420.1 220.98" stroke="#ad3030" stroke-width="1.15" fill="none"/>
<path d="M410.1 220.98L430.1 220.98" stroke="#ad3030" stroke-width="1.15" fill="none"/>
<path d="M412.7 217.58L427.5 217.58" stroke="#ad3030" stroke-width="1.15" fill="none"/>
<path d="M415.7 214.78L424.5 214.78" stroke="#ad3030" stroke-width="1.15" fill="none"/>
<path d="M418.5 212.18L421.7 212.18" stroke="#ad3030" stroke-width="1.15" fill="none"/>
<path d="M331.6 240.42L429.4 240.42" stroke="#2f9a35" stroke-width="1.15" fill="none"/>
<path d="M429.4 240.42L440 240.42" stroke="#ad3030" stroke-width="1.15" fill="none"/>
<path d="M439.2 237.82L444.6 240.42L439.2 243.02Z" fill="#ad3030"/>
<path d="M449.3 128.64L449.3 118.92" stroke="#ad3030" stroke-width="1.15" fill="none"/>
<path d="M444.2 118.92L454.4 118.92" stroke="#ad3030" stroke-width="1.15" fill="none"/>
<text transform="translate(449.8 117.42) scale(1 1.1)" fill="#20208a" stroke="#20208a" text-anchor="middle">3V3</text>
<path d="M449.3 128.64L449.3 162.66" stroke="#2f9a35" stroke-width="1.15" fill="none"/>
<path d="M449.3 162.66L449.3 172.38" stroke="#ad3030" stroke-width="1.15" fill="none"/>
<path d="M449.3 191.82L449.3 201.54" stroke="#ad3030" stroke-width="1.15" fill="none"/>
<rect x="444.44" y="172.38" width="9.72" height="19.44" stroke="#ad3030" stroke-width="1.15" fill="none"/>
<text transform="translate(459.5 180.5) scale(1 1.1)" fill="#20208a" stroke="#20208a">R11</text>
<text transform="translate(459.5 190.1) scale(1 1.1)" fill="#2a2aff" stroke="#2a2aff">20kΩ</text>
<path d="M449.3 201.54L449.3 220.98" stroke="#2f9a35" stroke-width="1.15" fill="none"/>
<path d="M449.3 220.98L449.3 230.7" stroke="#ad3030" stroke-width="1.15" fill="none"/>
<path d="M449.3 230.7L453.7 232.32L444.9 235.56L453.7 238.8L444.9 242.04L453.7 245.28L444.9 248.52L449.3 250.14" stroke="#ad3030" stroke-width="1.15" fill="none"/>
<path d="M449.3 250.14L449.3 259.86" stroke="#ad3030" stroke-width="1.15" fill="none"/>
<circle cx="446.4" cy="229.5" r="1.9" stroke="#ad3030" stroke-width="1.15" fill="none"/>
<text transform="translate(459.5 238.42) scale(1 1.1)" fill="#20208a" stroke="#20208a">R10</text>
<text transform="translate(459.5 248.42) scale(1 1.1)" fill="#2a2aff" stroke="#2a2aff">20kΩ</text>
<path d="M449.3 259.86L449.3 289.02" stroke="#2f9a35" stroke-width="1.15" fill="none"/>
<path d="M449.3 289.02L449.3 298.74" stroke="#ad3030" stroke-width="1.15" fill="none"/>
<path d="M459.3 298.74L439.3 298.74" stroke="#ad3030" stroke-width="1.15" fill="none"/>
<path d="M456.7 302.14L441.9 302.14" stroke="#ad3030" stroke-width="1.15" fill="none"/>
<path d="M453.7 304.94L444.9 304.94" stroke="#ad3030" stroke-width="1.15" fill="none"/>
<path d="M450.9 307.54L447.7 307.54" stroke="#ad3030" stroke-width="1.15" fill="none"/>
<path d="M331.6 259.86L405.9 259.86" stroke="#2f9a35" stroke-width="1.15" fill="none"/>
<path d="M405.9 259.86L405.9 269.58" stroke="#ad3030" stroke-width="1.15" fill="none"/>
<path d="M400.8 269.58L411 269.58" stroke="#ad3030" stroke-width="1.15" fill="none"/>
<text transform="translate(405.9 277.38) scale(1 1.1)" fill="#20208a" stroke="#20208a" text-anchor="middle">3V3</text>
<circle cx="352.2" cy="259.86" r="2.6" fill="#cc0000"/>
<path d="M352.2 259.86L352.2 264.72" stroke="#2f9a35" stroke-width="1.15" fill="none"/>
<path d="M352.2 264.72L352.2 282.16" stroke="#ad3030" stroke-width="1.15" fill="none"/>
<path d="M352.2 286.16L352.2 303.6" stroke="#ad3030" stroke-width="1.15" fill="none"/>
<path d="M344.2 282.16L360.2 282.16" stroke="#ad3030" stroke-width="1.15" fill="none"/>
<path d="M344.2 286.16L360.2 286.16" stroke="#ad3030" stroke-width="1.15" fill="none"/>
<path d="M352.2 303.6L352.2 313.32" stroke="#2f9a35" stroke-width="1.15" fill="none"/>
<path d="M352.2 313.32L352.2 323.04" stroke="#ad3030" stroke-width="1.15" fill="none"/>
<path d="M362.2 323.04L342.2 323.04" stroke="#ad3030" stroke-width="1.15" fill="none"/>
<path d="M359.6 326.44L344.8 326.44" stroke="#ad3030" stroke-width="1.15" fill="none"/>
<path d="M356.6 329.24L347.8 329.24" stroke="#ad3030" stroke-width="1.15" fill="none"/>
<path d="M353.8 331.84L350.6 331.84" stroke="#ad3030" stroke-width="1.15" fill="none"/>
<text transform="translate(367 282.2) scale(1 1.1)" fill="#20208a" stroke="#20208a">C26</text>
<text transform="translate(367 291.8) scale(1 1.1)" fill="#2a2aff" stroke="#2a2aff">100nF</text>
</g>
<g transform="translate(441.9 0)">
<rect x="215" y="123.78" width="107" height="145.8" stroke="#ad3030" stroke-width="1.15" fill="none"/>
<circle cx="219.9" cy="128.6" r="1.55" stroke="#ad3030" stroke-width="1.1" fill="none"/>
<path d="M205.8 133.5L215 133.5" stroke="#ad3030" stroke-width="1.15" fill="none"/>
<path d="M322 133.5L331.6 133.5" stroke="#ad3030" stroke-width="1.15" fill="none"/>
<text transform="translate(214.1 132.5) scale(1 1.1)" fill="#2b2b2b" stroke="#2b2b2b" text-anchor="end">1</text>
<text transform="translate(322.8 132.5) scale(1 1.1)" fill="#2b2b2b" stroke="#2b2b2b">28</text>
<text transform="translate(219.1 137.3) scale(1 1.1)" fill="#2b2b2b" stroke="#2b2b2b">OB2</text>
<text transform="translate(318.6 137.3) scale(1 1.1)" fill="#2b2b2b" stroke="#2b2b2b" text-anchor="end">VS</text>
<path d="M205.8 143.22L215 143.22" stroke="#ad3030" stroke-width="1.15" fill="none"/>
<path d="M322 143.22L331.6 143.22" stroke="#ad3030" stroke-width="1.15" fill="none"/>
<text transform="translate(214.1 142.22) scale(1 1.1)" fill="#2b2b2b" stroke="#2b2b2b" text-anchor="end">2</text>
<text transform="translate(322.8 142.22) scale(1 1.1)" fill="#2b2b2b" stroke="#2b2b2b">27</text>
<text transform="translate(219.1 147.02) scale(1 1.1)" fill="#2b2b2b" stroke="#2b2b2b">ENN</text>
<text transform="translate(318.6 147.02) scale(1 1.1)" fill="#2b2b2b" stroke="#2b2b2b" text-anchor="end">BRB</text>
<path d="M205.8 152.94L215 152.94" stroke="#ad3030" stroke-width="1.15" fill="none"/>
<path d="M322 152.94L331.6 152.94" stroke="#ad3030" stroke-width="1.15" fill="none"/>
<text transform="translate(214.1 151.94) scale(1 1.1)" fill="#2b2b2b" stroke="#2b2b2b" text-anchor="end">3</text>
<text transform="translate(322.8 151.94) scale(1 1.1)" fill="#2b2b2b" stroke="#2b2b2b">26</text>
<text transform="translate(219.1 156.74) scale(1 1.1)" fill="#2b2b2b" stroke="#2b2b2b">GND</text>
<text transform="translate(318.6 156.74) scale(1 1.1)" fill="#2b2b2b" stroke="#2b2b2b" text-anchor="end">OB1</text>
<path d="M205.8 162.66L215 162.66" stroke="#ad3030" stroke-width="1.15" fill="none"/>
<path d="M322 162.66L331.6 162.66" stroke="#ad3030" stroke-width="1.15" fill="none"/>
<text transform="translate(214.1 161.66) scale(1 1.1)" fill="#2b2b2b" stroke="#2b2b2b" text-anchor="end">4</text>
<text transform="translate(322.8 161.66) scale(1 1.1)" fill="#2b2b2b" stroke="#2b2b2b">25</text>
<text transform="translate(219.1 166.46) scale(1 1.1)" fill="#2b2b2b" stroke="#2b2b2b">CPO</text>
<text transform="translate(318.6 166.46) scale(1 1.1)" fill="#2b2b2b" stroke="#2b2b2b" text-anchor="end">UNUSED</text>
<path d="M205.8 172.38L215 172.38" stroke="#ad3030" stroke-width="1.15" fill="none"/>
<path d="M322 172.38L331.6 172.38" stroke="#ad3030" stroke-width="1.15" fill="none"/>
<text transform="translate(214.1 171.38) scale(1 1.1)" fill="#2b2b2b" stroke="#2b2b2b" text-anchor="end">5</text>
<text transform="translate(322.8 171.38) scale(1 1.1)" fill="#2b2b2b" stroke="#2b2b2b">24</text>
<text transform="translate(219.1 176.18) scale(1 1.1)" fill="#2b2b2b" stroke="#2b2b2b">CPI</text>
<text transform="translate(318.6 176.18) scale(1 1.1)" fill="#2b2b2b" stroke="#2b2b2b" text-anchor="end">OA1</text>
<path d="M205.8 182.1L215 182.1" stroke="#ad3030" stroke-width="1.15" fill="none"/>
<path d="M322 182.1L331.6 182.1" stroke="#ad3030" stroke-width="1.15" fill="none"/>
<text transform="translate(214.1 181.1) scale(1 1.1)" fill="#2b2b2b" stroke="#2b2b2b" text-anchor="end">6</text>
<text transform="translate(322.8 181.1) scale(1 1.1)" fill="#2b2b2b" stroke="#2b2b2b">23</text>
<text transform="translate(219.1 185.9) scale(1 1.1)" fill="#2b2b2b" stroke="#2b2b2b">VCP</text>
<text transform="translate(318.6 185.9) scale(1 1.1)" fill="#2b2b2b" stroke="#2b2b2b" text-anchor="end">BRA</text>
<path d="M205.8 191.82L215 191.82" stroke="#ad3030" stroke-width="1.15" fill="none"/>
<path d="M322 191.82L331.6 191.82" stroke="#ad3030" stroke-width="1.15" fill="none"/>
<text transform="translate(214.1 190.82) scale(1 1.1)" fill="#2b2b2b" stroke="#2b2b2b" text-anchor="end">7</text>
<text transform="translate(322.8 190.82) scale(1 1.1)" fill="#2b2b2b" stroke="#2b2b2b">22</text>
<text transform="translate(219.1 195.62) scale(1 1.1)" fill="#2b2b2b" stroke="#2b2b2b">SPREAD</text>
<text transform="translate(318.6 195.62) scale(1 1.1)" fill="#2b2b2b" stroke="#2b2b2b" text-anchor="end">VS</text>
<path d="M205.8 201.54L215 201.54" stroke="#ad3030" stroke-width="1.15" fill="none"/>
<path d="M322 201.54L331.6 201.54" stroke="#ad3030" stroke-width="1.15" fill="none"/>
<text transform="translate(214.1 200.54) scale(1 1.1)" fill="#2b2b2b" stroke="#2b2b2b" text-anchor="end">8</text>
<text transform="translate(322.8 200.54) scale(1 1.1)" fill="#2b2b2b" stroke="#2b2b2b">21</text>
<text transform="translate(219.1 205.34) scale(1 1.1)" fill="#2b2b2b" stroke="#2b2b2b">5VOUT</text>
<text transform="translate(318.6 205.34) scale(1 1.1)" fill="#2b2b2b" stroke="#2b2b2b" text-anchor="end">OA2</text>
<path d="M205.8 211.26L215 211.26" stroke="#ad3030" stroke-width="1.15" fill="none"/>
<path d="M322 211.26L331.6 211.26" stroke="#ad3030" stroke-width="1.15" fill="none"/>
<text transform="translate(214.1 210.26) scale(1 1.1)" fill="#2b2b2b" stroke="#2b2b2b" text-anchor="end">9</text>
<text transform="translate(322.8 210.26) scale(1 1.1)" fill="#2b2b2b" stroke="#2b2b2b">20</text>
<text transform="translate(219.1 215.06) scale(1 1.1)" fill="#2b2b2b" stroke="#2b2b2b">MS1_AD0</text>
<text transform="translate(318.6 215.06) scale(1 1.1)" fill="#2b2b2b" stroke="#2b2b2b" text-anchor="end">STDBY</text>
<path d="M205.8 220.98L215 220.98" stroke="#ad3030" stroke-width="1.15" fill="none"/>
<path d="M322 220.98L331.6 220.98" stroke="#ad3030" stroke-width="1.15" fill="none"/>
<text transform="translate(214.1 219.98) scale(1 1.1)" fill="#2b2b2b" stroke="#2b2b2b" text-anchor="end">10</text>
<text transform="translate(322.8 219.98) scale(1 1.1)" fill="#2b2b2b" stroke="#2b2b2b">19</text>
<text transform="translate(219.1 224.78) scale(1 1.1)" fill="#2b2b2b" stroke="#2b2b2b">MS2_AD1</text>
<text transform="translate(318.6 224.78) scale(1 1.1)" fill="#2b2b2b" stroke="#2b2b2b" text-anchor="end">DIR</text>
<path d="M205.8 230.7L215 230.7" stroke="#ad3030" stroke-width="1.15" fill="none"/>
<path d="M322 230.7L331.6 230.7" stroke="#ad3030" stroke-width="1.15" fill="none"/>
<text transform="translate(214.1 229.7) scale(1 1.1)" fill="#2b2b2b" stroke="#2b2b2b" text-anchor="end">11</text>
<text transform="translate(322.8 229.7) scale(1 1.1)" fill="#2b2b2b" stroke="#2b2b2b">18</text>
<text transform="translate(219.1 234.5) scale(1 1.1)" fill="#2b2b2b" stroke="#2b2b2b">DIAG</text>
<text transform="translate(318.6 234.5) scale(1 1.1)" fill="#2b2b2b" stroke="#2b2b2b" text-anchor="end">GND</text>
<path d="M205.8 240.42L215 240.42" stroke="#ad3030" stroke-width="1.15" fill="none"/>
<path d="M322 240.42L331.6 240.42" stroke="#ad3030" stroke-width="1.15" fill="none"/>
<text transform="translate(214.1 239.42) scale(1 1.1)" fill="#2b2b2b" stroke="#2b2b2b" text-anchor="end">12</text>
<text transform="translate(322.8 239.42) scale(1 1.1)" fill="#2b2b2b" stroke="#2b2b2b">17</text>
<text transform="translate(219.1 244.22) scale(1 1.1)" fill="#2b2b2b" stroke="#2b2b2b">INDEX</text>
<text transform="translate(318.6 244.22) scale(1 1.1)" fill="#2b2b2b" stroke="#2b2b2b" text-anchor="end">VREF</text>
<path d="M205.8 250.14L215 250.14" stroke="#ad3030" stroke-width="1.15" fill="none"/>
<path d="M322 250.14L331.6 250.14" stroke="#ad3030" stroke-width="1.15" fill="none"/>
<text transform="translate(214.1 249.14) scale(1 1.1)" fill="#2b2b2b" stroke="#2b2b2b" text-anchor="end">13</text>
<text transform="translate(322.8 249.14) scale(1 1.1)" fill="#2b2b2b" stroke="#2b2b2b">16</text>
<text transform="translate(219.1 253.94) scale(1 1.1)" fill="#2b2b2b" stroke="#2b2b2b">CLK</text>
<text transform="translate(318.6 253.94) scale(1 1.1)" fill="#2b2b2b" stroke="#2b2b2b" text-anchor="end">STEP</text>
<path d="M205.8 259.86L215 259.86" stroke="#ad3030" stroke-width="1.15" fill="none"/>
<path d="M322 259.86L331.6 259.86" stroke="#ad3030" stroke-width="1.15" fill="none"/>
<text transform="translate(214.1 258.86) scale(1 1.1)" fill="#2b2b2b" stroke="#2b2b2b" text-anchor="end">14</text>
<text transform="translate(322.8 258.86) scale(1 1.1)" fill="#2b2b2b" stroke="#2b2b2b">15</text>
<text transform="translate(219.1 263.66) scale(1 1.1)" fill="#2b2b2b" stroke="#2b2b2b">PDN_UART</text>
<text transform="translate(318.6 263.66) scale(1 1.1)" fill="#2b2b2b" stroke="#2b2b2b" text-anchor="end">VCC_IO</text>
<text transform="translate(215.6 276.6) scale(1 1.1)" fill="#20208a" stroke="#20208a">U7</text>
<text transform="translate(215.6 285.2) scale(1 1.1)" fill="#2a2aff" stroke="#2a2aff">TMC2209-LA-T</text>
<path d="M268.5 123.78L268.5 114.06" stroke="#ad3030" stroke-width="1.15" fill="none"/>
<path d="M268.5 114.06L268.5 104.34" stroke="#2f9a35" stroke-width="1.15" fill="none"/>
<path d="M268.5 104.34L268.5 94.62" stroke="#ad3030" stroke-width="1.15" fill="none"/>
<path d="M258.5 94.62L278.5 94.62" stroke="#ad3030" stroke-width="1.15" fill="none"/>
<path d="M261.1 91.22L275.9 91.22" stroke="#ad3030" stroke-width="1.15" fill="none"/>
<path d="M264.1 88.42L272.9 88.42" stroke="#ad3030" stroke-width="1.15" fill="none"/>
<path d="M266.9 85.82L270.1 85.82" stroke="#ad3030" stroke-width="1.15" fill="none"/>
<text transform="translate(265.9 126.38) rotate(-90) scale(1 1.1)" fill="#2b2b2b" stroke="#2b2b2b">29</text>
<text transform="translate(269.7 139.38) rotate(-90) scale(1 1.1)" fill="#2b2b2b" stroke="#2b2b2b">EP</text>
<path d="M88.6 128.64L88.6 118.92" stroke="#ad3030" stroke-width="1.15" fill="none"/>
<path d="M83.5 118.92L93.7 118.92" stroke="#ad3030" stroke-width="1.15" fill="none"/>
<text transform="translate(89.1 117.42) scale(1 1.1)" fill="#20208a" stroke="#20208a" text-anchor="middle">3V3</text>
<path d="M88.6 128.64L88.6 143.22L108.56 143.22" stroke="#2f9a35" stroke-width="1.15" fill="none"/>
<path d="M108.56 143.22L118.28 143.22" stroke="#ad3030" stroke-width="1.15" fill="none"/>
<path d="M137.72 143.22L147.44 143.22" stroke="#ad3030" stroke-width="1.15" fill="none"/>
<rect x="118.28" y="138.36" width="19.44" height="9.72" stroke="#ad3030" stroke-width="1.15" fill="none"/>
<text transform="translate(119.18 136.92) scale(1 1.1)" fill="#20208a" stroke="#20208a">R23</text>
<text transform="translate(138.92 151.32) scale(1 1.1)" fill="#2a2aff" stroke="#2a2aff">10kΩ</text>
<path d="M147.44 143.22L205.8 143.22" stroke="#2f9a35" stroke-width="1.15" fill="none"/>
<path d="M171.3 133.5L205.8 133.5" stroke="#2f9a35" stroke-width="1.15" fill="none"/>
<circle cx="171.3" cy="133.5" r="2.45" fill="#999999"/>
<text transform="translate(177 131.9) scale(1 1.1)" fill="#2a2aff" stroke="#2a2aff">Y_B-</text>
<text transform="translate(152.8 141.6) scale(1 1.1)" fill="#2a2aff" stroke="#2a2aff">PB0</text>
<path d="M205.8 152.94L75.3 152.94L75.3 259.86L205.8 259.86" stroke="#2f9a35" stroke-width="1.15" fill="none"/>
<path d="M75.3 172.38L70.44 172.38" stroke="#2f9a35" stroke-width="1.15" fill="none"/>
<path d="M70.44 172.38L60.72 172.38" stroke="#ad3030" stroke-width="1.15" fill="none"/>
<path d="M60.72 182.38L60.72 162.38" stroke="#ad3030" stroke-width="1.15" fill="none"/>
<path d="M57.32 179.78L57.32 164.98" stroke="#ad3030" stroke-width="1.15" fill="none"/>
<path d="M54.52 176.78L54.52 167.98" stroke="#ad3030" stroke-width="1.15" fill="none"/>
<path d="M51.92 173.98L51.92 170.78" stroke="#ad3030" stroke-width="1.15" fill="none"/>
<circle cx="75.3" cy="172.38" r="2.6" fill="#cc0000"/>
<circle cx="75.3" cy="191.82" r="2.6" fill="#cc0000"/>
<circle cx="75.3" cy="201.54" r="2.6" fill="#cc0000"/>
<circle cx="75.3" cy="230.7" r="2.6" fill="#cc0000"/>
<circle cx="75.3" cy="250.14" r="2.6" fill="#cc0000"/>
<path d="M205.8 162.66L187.04 162.66" stroke="#2f9a35" stroke-width="1.15" fill="none"/>
<path d="M148.16 162.66L165.85 162.66" stroke="#ad3030" stroke-width="1.15" fill="none"/>
<path d="M169.35 162.66L187.04 162.66" stroke="#ad3030" stroke-width="1.15" fill="none"/>
<path d="M165.85 154.66L165.85 170.66" stroke="#ad3030" stroke-width="1.15" fill="none"/>
<path d="M169.35 154.66L169.35 170.66" stroke="#ad3030" stroke-width="1.15" fill="none"/>
<path d="M148.16 162.66L133.4 162.66L133.4 172.38L205.8 172.38" stroke="#2f9a35" stroke-width="1.15" fill="none"/>
<text transform="translate(178.2 160.66) scale(1 1.1)" fill="#20208a" stroke="#20208a">C32</text>
<text transform="translate(173.2 170.46) scale(1 1.1)" fill="#2a2aff" stroke="#2a2aff">22nF</text>
<path d="M205.8 182.1L187.04 182.1" stroke="#2f9a35" stroke-width="1.15" fill="none"/>
<path d="M148.16 182.1L165.85 182.1" stroke="#ad3030" stroke-width="1.15" fill="none"/>
<path d="M169.35 182.1L187.04 182.1" stroke="#ad3030" stroke-width="1.15" fill="none"/>
<path d="M165.85 174.1L165.85 190.1" stroke="#ad3030" stroke-width="1.15" fill="none"/>
<path d="M169.35 174.1L169.35 190.1" stroke="#ad3030" stroke-width="1.15" fill="none"/>
<path d="M148.16 182.1L104.3 182.1" stroke="#2f9a35" stroke-width="1.15" fill="none"/>
<path d="M104.3 182.1L104.3 172.38" stroke="#ad3030" stroke-width="1.15" fill="none"/>
<path d="M99.2 172.38L109.4 172.38" stroke="#ad3030" stroke-width="1.15" fill="none"/>
<text transform="translate(104.8 169.98) scale(1 1.1)" fill="#20208a" stroke="#20208a" text-anchor="middle">VCC_12V</text>
<text transform="translate(178.2 180.1) scale(1 1.1)" fill="#20208a" stroke="#20208a">C38</text>
<text transform="translate(173.6 189.7) scale(1 1.1)" fill="#2a2aff" stroke="#2a2aff">100nF</text>
<path d="M205.8 191.82L75.3 191.82" stroke="#2f9a35" stroke-width="1.15" fill="none"/>
<path d="M205.8 201.54L123.04 201.54" stroke="#2f9a35" stroke-width="1.15" fill="none"/>
<path d="M84.16 201.54L101.85 201.54" stroke="#ad3030" stroke-width="1.15" fill="none"/>
<path d="M105.35 201.54L123.04 201.54" stroke="#ad3030" stroke-width="1.15" fill="none"/>
<path d="M101.85 193.54L101.85 209.54" stroke="#ad3030" stroke-width="1.15" fill="none"/>
<path d="M105.35 193.54L105.35 209.54" stroke="#ad3030" stroke-width="1.15" fill="none"/>
<path d="M84.16 201.54L75.3 201.54" stroke="#2f9a35" stroke-width="1.15" fill="none"/>
<text transform="translate(108.7 199.54) scale(1 1.1)" fill="#20208a" stroke="#20208a">C34</text>
<text transform="translate(108.7 209.34) scale(1 1.1)" fill="#2a2aff" stroke="#2a2aff">2.2uF</text>
<path d="M132.8 211.26L205.8 211.26" stroke="#2f9a35" stroke-width="1.15" fill="none"/>
<circle cx="132.8" cy="211.26" r="2.45" fill="#999999"/>
<path d="M132.8 220.98L205.8 220.98" stroke="#2f9a35" stroke-width="1.15" fill="none"/>
<circle cx="132.8" cy="220.98" r="2.45" fill="#999999"/>
<text transform="translate(177 209.26) scale(1 1.1)" fill="#2a2aff" stroke="#2a2aff">PB10</text>
<text transform="translate(177 218.98) scale(1 1.1)" fill="#2a2aff" stroke="#2a2aff">PB11</text>
<text transform="translate(137.7 209.26) scale(1 1.1)" fill="#2b2b2b" stroke="#2b2b2b">Y_MS1</text>
<text transform="translate(137.7 218.98) scale(1 1.1)" fill="#2b2b2b" stroke="#2b2b2b">Y_MS2</text>
<path d="M205.8 230.7L127.94 230.7" stroke="#2f9a35" stroke-width="1.15" fill="none"/>
<path d="M89.06 230.7L75.3 230.7" stroke="#2f9a35" stroke-width="1.15" fill="none"/>
<path d="M89.06 230.7L98.78 230.7" stroke="#ad3030" stroke-width="1.15" fill="none"/>
<path d="M118.22 230.7L127.94 230.7" stroke="#ad3030" stroke-width="1.15" fill="none"/>
<rect x="98.78" y="225.84" width="19.44" height="9.72" stroke="#ad3030" stroke-width="1.15" fill="none"/>
<text transform="translate(98.78 223.9) scale(1 1.1)" fill="#20208a" stroke="#20208a">R12</text>
<text transform="translate(98.78 243.6) scale(1 1.1)" fill="#2a2aff" stroke="#2a2aff">220Ω</text>
<path d="M201.4 236.62L209 244.22" stroke="#2fb02f" stroke-width="1.15"/>
<path d="M201.4 244.22L209 236.62" stroke="#2fb02f" stroke-width="1.15"/>
<path d="M205.8 250.14L75.3 250.14" stroke="#2f9a35" stroke-width="1.15" fill="none"/>
<path d="M278.4 45.72L278.4 36" stroke="#ad3030" stroke-width="1.15" fill="none"/>
<path d="M273.3 36L283.5 36" stroke="#ad3030" stroke-width="1.15" fill="none"/>
<text transform="translate(278.9 33.6) scale(1 1.1)" fill="#20208a" stroke="#20208a" text-anchor="middle">VCC_12V</text>
<path d="M278.4 45.72L278.4 60.6L420.1 60.6L420.1 191.82L331.6 191.82" stroke="#2f9a35" stroke-width="1.15" fill="none"/>
<path d="M312.4 60.6L312.4 65.36" stroke="#2f9a35" stroke-width="1.15" fill="none"/>
<path d="M312.4 65.36L312.4 82.8" stroke="#ad3030" stroke-width="1.15" fill="none"/>
<path d="M312.4 86.8L312.4 104.24" stroke="#ad3030" stroke-width="1.15" fill="none"/>
<path d="M305.1 82.8L319.7 82.8" stroke="#ad3030" stroke-width="1.15" fill="none"/>
<path d="M305.1 89.8Q312.4 82.8 319.7 89.8" stroke="#ad3030" stroke-width="1.3" fill="none"/>
<path d="M315.4 77.8L319.4 77.8" stroke="#ad3030" stroke-width="1.15" fill="none"/>
<path d="M317.4 75.8L317.4 79.8" stroke="#ad3030" stroke-width="1.15" fill="none"/>
<circle cx="312.4" cy="60.6" r="2.6" fill="#cc0000"/>
<text transform="translate(293.7 78.4) scale(1 1.1)" fill="#20208a" stroke="#20208a">C44</text>
<text transform="translate(294.2 97.9) scale(1 1.1)" fill="#2a2aff" stroke="#2a2aff">10uF</text>
<path d="M341.6 60.6L341.6 65.36" stroke="#2f9a35" stroke-width="1.15" fill="none"/>
<path d="M341.6 65.36L341.6 82.8" stroke="#ad3030" stroke-width="1.15" fill="none"/>
<path d="M341.6 86.8L341.6 104.24" stroke="#ad3030" stroke-width="1.15" fill="none"/>
<path d="M334.3 82.8L348.9 82.8" stroke="#ad3030" stroke-width="1.15" fill="none"/>
<path d="M334.3 89.8Q341.6 82.8 348.9 89.8" stroke="#ad3030" stroke-width="1.3" fill="none"/>
<path d="M344.6 77.8L348.6 77.8" stroke="#ad3030" stroke-width="1.15" fill="none"/>
<path d="M346.6 75.8L346.6 79.8" stroke="#ad3030" stroke-width="1.15" fill="none"/>
<circle cx="341.6" cy="60.6" r="2.6" fill="#cc0000"/>
<text transform="translate(322.9 78.4) scale(1 1.1)" fill="#20208a" stroke="#20208a">C45</text>
<text transform="translate(323.4 97.9) scale(1 1.1)" fill="#2a2aff" stroke="#2a2aff">10uF</text>
<path d="M371.3 60.6L371.3 65.36" stroke="#2f9a35" stroke-width="1.15" fill="none"/>
<path d="M371.3 65.36L371.3 82.8" stroke="#ad3030" stroke-width="1.15" fill="none"/>
<path d="M371.3 86.8L371.3 104.24" stroke="#ad3030" stroke-width="1.15" fill="none"/>
<path d="M363.3 82.8L379.3 82.8" stroke="#ad3030" stroke-width="1.15" fill="none"/>
<path d="M363.3 86.8L379.3 86.8" stroke="#ad3030" stroke-width="1.15" fill="none"/>
<circle cx="371.3" cy="60.6" r="2.6" fill="#cc0000"/>
<text transform="translate(352.6 78.4) scale(1 1.1)" fill="#20208a" stroke="#20208a">C36</text>
<text transform="translate(347.9 97.9) scale(1 1.1)" fill="#2a2aff" stroke="#2a2aff">100nF</text>
<path d="M400.8 60.6L400.8 65.36" stroke="#2f9a35" stroke-width="1.15" fill="none"/>
<path d="M400.8 65.36L400.8 82.8" stroke="#ad3030" stroke-width="1.15" fill="none"/>
<path d="M400.8 86.8L400.8 104.24" stroke="#ad3030" stroke-width="1.15" fill="none"/>
<path d="M392.8 82.8L408.8 82.8" stroke="#ad3030" stroke-width="1.15" fill="none"/>
<path d="M392.8 86.8L408.8 86.8" stroke="#ad3030" stroke-width="1.15" fill="none"/>
<circle cx="400.8" cy="60.6" r="2.6" fill="#cc0000"/>
<text transform="translate(382.1 78.4) scale(1 1.1)" fill="#20208a" stroke="#20208a">C35</text>
<text transform="translate(377.4 97.9) scale(1 1.1)" fill="#2a2aff" stroke="#2a2aff">100nF</text>
<path d="M312.4 104.3L400.8 104.3" stroke="#2f9a35" stroke-width="1.15" fill="none"/>
<circle cx="341.6" cy="104.3" r="2.6" fill="#cc0000"/>
<circle cx="371.3" cy="104.3" r="2.6" fill="#cc0000"/>
<path d="M371.3 104.3L371.3 114.02" stroke="#ad3030" stroke-width="1.15" fill="none"/>
<path d="M381.3 114.02L361.3 114.02" stroke="#ad3030" stroke-width="1.15" fill="none"/>
<path d="M378.7 117.42L363.9 117.42" stroke="#ad3030" stroke-width="1.15" fill="none"/>
<path d="M375.7 120.22L366.9 120.22" stroke="#ad3030" stroke-width="1.15" fill="none"/>
<path d="M372.9 122.82L369.7 122.82" stroke="#ad3030" stroke-width="1.15" fill="none"/>
<path d="M331.6 133.5L420.1 133.5" stroke="#2f9a35" stroke-width="1.15" fill="none"/>
<circle cx="420.1" cy="133.5" r="2.6" fill="#cc0000"/>
<path d="M331.6 143.22L360.86 143.22" stroke="#2f9a35" stroke-width="1.15" fill="none"/>
<path d="M360.86 143.22L370.58 143.22" stroke="#ad3030" stroke-width="1.15" fill="none"/>
<path d="M390.02 143.22L399.74 143.22" stroke="#ad3030" stroke-width="1.15" fill="none"/>
<rect x="370.58" y="138.36" width="19.44" height="9.72" stroke="#ad3030" stroke-width="1.15" fill="none"/>
<text transform="translate(352 141.22) scale(1 1.1)" fill="#20208a" stroke="#20208a">R24</text>
<text transform="translate(375.9 156.72) scale(1 1.1)" fill="#2a2aff" stroke="#2a2aff">0.11Ω</text>
<path d="M331.6 182.1L360.86 182.1" stroke="#2f9a35" stroke-width="1.15" fill="none"/>
<path d="M360.86 182.1L370.58 182.1" stroke="#ad3030" stroke-width="1.15" fill="none"/>
<path d="M390.02 182.1L399.74 182.1" stroke="#ad3030" stroke-width="1.15" fill="none"/>
<rect x="370.58" y="177.24" width="19.44" height="9.72" stroke="#ad3030" stroke-width="1.15" fill="none"/>
<text transform="translate(352 180.2) scale(1 1.1)" fill="#20208a" stroke="#20208a">R25</text>
<text transform="translate(390.62 189.7) scale(1 1.1)" fill="#2a2aff" stroke="#2a2aff">0.11Ω</text>
<path d="M399.74 143.22L399.74 182.1" stroke="#2f9a35" stroke-width="1.15" fill="none"/>
<circle cx="399.74" cy="162.66" r="2.6" fill="#cc0000"/>
<path d="M399.74 162.66L409.46 162.66" stroke="#ad3030" stroke-width="1.15" fill="none"/>
<path d="M409.46 152.66L409.46 172.66" stroke="#ad3030" stroke-width="1.15" fill="none"/>
<path d="M412.86 155.26L412.86 170.06" stroke="#ad3030" stroke-width="1.15" fill="none"/>
<path d="M415.66 158.26L415.66 167.06" stroke="#ad3030" stroke-width="1.15" fill="none"/>
<path d="M418.26 161.06L418.26 164.26" stroke="#ad3030" stroke-width="1.15" fill="none"/>
<path d="M331.6 152.94L366.5 152.94" stroke="#2f9a35" stroke-width="1.15" fill="none"/>
<circle cx="366.5" cy="152.94" r="2.45" fill="#999999"/>
<text transform="translate(338 151.04) scale(1 1.1)" fill="#2a2aff" stroke="#2a2aff">Y_B+</text>
<path d="M331.6 172.38L366.5 172.38" stroke="#2f9a35" stroke-width="1.15" fill="none"/>
<circle cx="366.5" cy="172.38" r="2.45" fill="#999999"/>
<text transform="translate(338 170.48) scale(1 1.1)" fill="#2a2aff" stroke="#2a2aff">Y_A+</text>
<path d="M327.8 158.86L335.4 166.46" stroke="#2fb02f" stroke-width="1.15"/>
<path d="M327.8 166.46L335.4 158.86" stroke="#2fb02f" stroke-width="1.15"/>
<path d="M327.8 207.46L335.4 215.06" stroke="#2fb02f" stroke-width="1.15"/>
<path d="M327.8 215.06L335.4 207.46" stroke="#2fb02f" stroke-width="1.15"/>
<path d="M331.6 201.54L400 201.54" stroke="#2f9a35" stroke-width="1.15" fill="none"/>
<circle cx="400" cy="201.54" r="2.45" fill="#999999"/>
<text transform="translate(337.3 199.64) scale(1 1.1)" fill="#2a2aff" stroke="#2a2aff">Y_A-</text>
<path d="M331.6 220.98L400 220.98" stroke="#2f9a35" stroke-width="1.15" fill="none"/>
<circle cx="400" cy="220.98" r="2.45" fill="#999999"/>
<text transform="translate(337.4 219.28) scale(1 1.1)" fill="#2a2aff" stroke="#2a2aff">PA5</text>
<text transform="translate(361.7 219.28) scale(1 1.1)" fill="#2b2b2b" stroke="#2b2b2b">Y_DIR</text>
<path d="M331.6 250.04L400 250.04" stroke="#2f9a35" stroke-width="1.15" fill="none"/>
<circle cx="400" cy="250.14" r="2.45" fill="#999999"/>
<text transform="translate(337.4 248.44) scale(1 1.1)" fill="#2a2aff" stroke="#2a2aff">PA2</text>
<text transform="translate(361.7 248.44) scale(1 1.1)" fill="#2b2b2b" stroke="#2b2b2b">Y_STEP</text>
<path d="M331.6 230.7L420.1 230.7" stroke="#2f9a35" stroke-width="1.15" fill="none"/>
<path d="M420.1 230.7L420.1 220.98" stroke="#ad3030" stroke-width="1.15" fill="none"/>
<path d="M410.1 220.98L430.1 220.98" stroke="#ad3030" stroke-width="1.15" fill="none"/>
<path d="M412.7 217.58L427.5 217.58" stroke="#ad3030" stroke-width="1.15" fill="none"/>
<path d="M415.7 214.78L424.5 214.78" stroke="#ad3030" stroke-width="1.15" fill="none"/>
<path d="M418.5 212.18L421.7 212.18" stroke="#ad3030" stroke-width="1.15" fill="none"/>
<path d="M331.6 240.42L429.4 240.42" stroke="#2f9a35" stroke-width="1.15" fill="none"/>
<path d="M429.4 240.42L440 240.42" stroke="#ad3030" stroke-width="1.15" fill="none"/>
<path d="M439.2 237.82L444.6 240.42L439.2 243.02Z" fill="#ad3030"/>
<path d="M449.3 128.64L449.3 118.92" stroke="#ad3030" stroke-width="1.15" fill="none"/>
<path d="M444.2 118.92L454.4 118.92" stroke="#ad3030" stroke-width="1.15" fill="none"/>
<text transform="translate(449.8 117.42) scale(1 1.1)" fill="#20208a" stroke="#20208a" text-anchor="middle">3V3</text>
<path d="M449.3 128.64L449.3 162.66" stroke="#2f9a35" stroke-width="1.15" fill="none"/>
<path d="M449.3 162.66L449.3 172.38" stroke="#ad3030" stroke-width="1.15" fill="none"/>
<path d="M449.3 191.82L449.3 201.54" stroke="#ad3030" stroke-width="1.15" fill="none"/>
<rect x="444.44" y="172.38" width="9.72" height="19.44" stroke="#ad3030" stroke-width="1.15" fill="none"/>
<text transform="translate(459.5 180.5) scale(1 1.1)" fill="#20208a" stroke="#20208a">R14</text>
<text transform="translate(459.5 190.1) scale(1 1.1)" fill="#2a2aff" stroke="#2a2aff">20kΩ</text>
<path d="M449.3 201.54L449.3 220.98" stroke="#2f9a35" stroke-width="1.15" fill="none"/>
<path d="M449.3 220.98L449.3 230.7" stroke="#ad3030" stroke-width="1.15" fill="none"/>
<path d="M449.3 230.7L453.7 232.32L444.9 235.56L453.7 238.8L444.9 242.04L453.7 245.28L444.9 248.52L449.3 250.14" stroke="#ad3030" stroke-width="1.15" fill="none"/>
<path d="M449.3 250.14L449.3 259.86" stroke="#ad3030" stroke-width="1.15" fill="none"/>
<circle cx="446.4" cy="229.5" r="1.9" stroke="#ad3030" stroke-width="1.15" fill="none"/>
<text transform="translate(459.5 238.42) scale(1 1.1)" fill="#20208a" stroke="#20208a">R13</text>
<text transform="translate(459.5 248.42) scale(1 1.1)" fill="#2a2aff" stroke="#2a2aff">20kΩ</text>
<path d="M449.3 259.86L449.3 289.02" stroke="#2f9a35" stroke-width="1.15" fill="none"/>
<path d="M449.3 289.02L449.3 298.74" stroke="#ad3030" stroke-width="1.15" fill="none"/>
<path d="M459.3 298.74L439.3 298.74" stroke="#ad3030" stroke-width="1.15" fill="none"/>
<path d="M456.7 302.14L441.9 302.14" stroke="#ad3030" stroke-width="1.15" fill="none"/>
<path d="M453.7 304.94L444.9 304.94" stroke="#ad3030" stroke-width="1.15" fill="none"/>
<path d="M450.9 307.54L447.7 307.54" stroke="#ad3030" stroke-width="1.15" fill="none"/>
<path d="M331.6 259.86L405.9 259.86" stroke="#2f9a35" stroke-width="1.15" fill="none"/>
<path d="M405.9 259.86L405.9 269.58" stroke="#ad3030" stroke-width="1.15" fill="none"/>
<path d="M400.8 269.58L411 269.58" stroke="#ad3030" stroke-width="1.15" fill="none"/>
<text transform="translate(405.9 277.38) scale(1 1.1)" fill="#20208a" stroke="#20208a" text-anchor="middle">3V3</text>
<circle cx="352.2" cy="259.86" r="2.6" fill="#cc0000"/>
<path d="M352.2 259.86L352.2 264.72" stroke="#2f9a35" stroke-width="1.15" fill="none"/>
<path d="M352.2 264.72L352.2 282.16" stroke="#ad3030" stroke-width="1.15" fill="none"/>
<path d="M352.2 286.16L352.2 303.6" stroke="#ad3030" stroke-width="1.15" fill="none"/>
<path d="M344.2 282.16L360.2 282.16" stroke="#ad3030" stroke-width="1.15" fill="none"/>
<path d="M344.2 286.16L360.2 286.16" stroke="#ad3030" stroke-width="1.15" fill="none"/>
<path d="M352.2 303.6L352.2 313.32" stroke="#2f9a35" stroke-width="1.15" fill="none"/>
<path d="M352.2 313.32L352.2 323.04" stroke="#ad3030" stroke-width="1.15" fill="none"/>
<path d="M362.2 323.04L342.2 323.04" stroke="#ad3030" stroke-width="1.15" fill="none"/>
<path d="M359.6 326.44L344.8 326.44" stroke="#ad3030" stroke-width="1.15" fill="none"/>
<path d="M356.6 329.24L347.8 329.24" stroke="#ad3030" stroke-width="1.15" fill="none"/>
<path d="M353.8 331.84L350.6 331.84" stroke="#ad3030" stroke-width="1.15" fill="none"/>
<text transform="translate(367 282.2) scale(1 1.1)" fill="#20208a" stroke="#20208a">C33</text>
<text transform="translate(367 291.8) scale(1 1.1)" fill="#2a2aff" stroke="#2a2aff">100nF</text>
</g>
<g transform="translate(0 0)">
<rect x="283.22" y="400.58" width="19.44" height="43.74" stroke="#ad3030" stroke-width="1.15" fill="none"/>
<circle cx="288.42" cy="404.9" r="1.55" stroke="#ad3030" stroke-width="1.1" fill="none"/>
<path d="M273.5 410.3L283.22 410.3" stroke="#ad3030" stroke-width="1.15" fill="none"/>
<path d="M229.7 410.3L273.5 410.3" stroke="#2f9a35" stroke-width="1.15" fill="none"/>
<circle cx="229.7" cy="410.3" r="2.45" fill="#999999"/>
<text transform="translate(240 408.8) scale(1 1.1)" fill="#2a2aff" stroke="#2a2aff">X_B-</text>
<text transform="translate(282.32 409.8) scale(1 1.1)" fill="#2b2b2b" stroke="#2b2b2b" text-anchor="end">1</text>
<text transform="translate(286.92 414) scale(1 1.1)" fill="#2b2b2b" stroke="#2b2b2b">1</text>
<path d="M273.5 420.02L283.22 420.02" stroke="#ad3030" stroke-width="1.15" fill="none"/>
<path d="M229.7 420.02L273.5 420.02" stroke="#2f9a35" stroke-width="1.15" fill="none"/>
<circle cx="229.7" cy="420.02" r="2.45" fill="#999999"/>
<text transform="translate(240 418.52) scale(1 1.1)" fill="#2a2aff" stroke="#2a2aff">X_B+</text>
<text transform="translate(282.32 419.52) scale(1 1.1)" fill="#2b2b2b" stroke="#2b2b2b" text-anchor="end">2</text>
<text transform="translate(286.92 423.72) scale(1 1.1)" fill="#2b2b2b" stroke="#2b2b2b">2</text>
<path d="M273.5 429.74L283.22 429.74" stroke="#ad3030" stroke-width="1.15" fill="none"/>
<path d="M229.7 429.74L273.5 429.74" stroke="#2f9a35" stroke-width="1.15" fill="none"/>
<circle cx="229.7" cy="429.74" r="2.45" fill="#999999"/>
<text transform="translate(240 428.24) scale(1 1.1)" fill="#2a2aff" stroke="#2a2aff">X_A-</text>
<text transform="translate(282.32 429.24) scale(1 1.1)" fill="#2b2b2b" stroke="#2b2b2b" text-anchor="end">3</text>
<text transform="translate(286.92 433.44) scale(1 1.1)" fill="#2b2b2b" stroke="#2b2b2b">3</text>
<path d="M273.5 439.46L283.22 439.46" stroke="#ad3030" stroke-width="1.15" fill="none"/>
<path d="M229.7 439.46L273.5 439.46" stroke="#2f9a35" stroke-width="1.15" fill="none"/>
<circle cx="229.7" cy="439.46" r="2.45" fill="#999999"/>
<text transform="translate(240 437.96) scale(1 1.1)" fill="#2a2aff" stroke="#2a2aff">X_A+</text>
<text transform="translate(282.32 438.96) scale(1 1.1)" fill="#2b2b2b" stroke="#2b2b2b" text-anchor="end">4</text>
<text transform="translate(286.92 443.16) scale(1 1.1)" fill="#2b2b2b" stroke="#2b2b2b">4</text>
<text transform="translate(283.72 399.2) scale(1 1.1)" fill="#20208a" stroke="#20208a">CN1</text>
<text transform="translate(283.72 452.4) scale(1 1.1)" fill="#2a2aff" stroke="#2a2aff">XH-4AW</text>
</g>
<g transform="translate(495.3 0)">
<rect x="283.22" y="400.58" width="19.44" height="43.74" stroke="#ad3030" stroke-width="1.15" fill="none"/>
<circle cx="288.42" cy="404.9" r="1.55" stroke="#ad3030" stroke-width="1.1" fill="none"/>
<path d="M273.5 410.3L283.22 410.3" stroke="#ad3030" stroke-width="1.15" fill="none"/>
<path d="M229.7 410.3L273.5 410.3" stroke="#2f9a35" stroke-width="1.15" fill="none"/>
<circle cx="229.7" cy="410.3" r="2.45" fill="#999999"/>
<text transform="translate(240 408.8) scale(1 1.1)" fill="#2a2aff" stroke="#2a2aff">Y_B-</text>
<text transform="translate(282.32 409.8) scale(1 1.1)" fill="#2b2b2b" stroke="#2b2b2b" text-anchor="end">1</text>
<text transform="translate(286.92 414) scale(1 1.1)" fill="#2b2b2b" stroke="#2b2b2b">1</text>
<path d="M273.5 420.02L283.22 420.02" stroke="#ad3030" stroke-width="1.15" fill="none"/>
<path d="M229.7 420.02L273.5 420.02" stroke="#2f9a35" stroke-width="1.15" fill="none"/>
<circle cx="229.7" cy="420.02" r="2.45" fill="#999999"/>
<text transform="translate(240 418.52) scale(1 1.1)" fill="#2a2aff" stroke="#2a2aff">Y_B+</text>
<text transform="translate(282.32 419.52) scale(1 1.1)" fill="#2b2b2b" stroke="#2b2b2b" text-anchor="end">2</text>
<text transform="translate(286.92 423.72) scale(1 1.1)" fill="#2b2b2b" stroke="#2b2b2b">2</text>
<path d="M273.5 429.74L283.22 429.74" stroke="#ad3030" stroke-width="1.15" fill="none"/>
<path d="M229.7 429.74L273.5 429.74" stroke="#2f9a35" stroke-width="1.15" fill="none"/>
<circle cx="229.7" cy="429.74" r="2.45" fill="#999999"/>
<text transform="translate(240 428.24) scale(1 1.1)" fill="#2a2aff" stroke="#2a2aff">Y_A-</text>
<text transform="translate(282.32 429.24) scale(1 1.1)" fill="#2b2b2b" stroke="#2b2b2b" text-anchor="end">3</text>
<text transform="translate(286.92 433.44) scale(1 1.1)" fill="#2b2b2b" stroke="#2b2b2b">3</text>
<path d="M273.5 439.46L283.22 439.46" stroke="#ad3030" stroke-width="1.15" fill="none"/>
<path d="M229.7 439.46L273.5 439.46" stroke="#2f9a35" stroke-width="1.15" fill="none"/>
<circle cx="229.7" cy="439.46" r="2.45" fill="#999999"/>
<text transform="translate(240 437.96) scale(1 1.1)" fill="#2a2aff" stroke="#2a2aff">Y_A+</text>
<text transform="translate(282.32 438.96) scale(1 1.1)" fill="#2b2b2b" stroke="#2b2b2b" text-anchor="end">4</text>
<text transform="translate(286.92 443.16) scale(1 1.1)" fill="#2b2b2b" stroke="#2b2b2b">4</text>
<text transform="translate(283.72 399.2) scale(1 1.1)" fill="#20208a" stroke="#20208a">CN2</text>
<text transform="translate(283.72 452.4) scale(1 1.1)" fill="#2a2aff" stroke="#2a2aff">XH-4AW</text>
</g>
<text transform="translate(94.5 339) scale(1 1.0)" fill="#222" stroke="#222" style="font-size:17.6px">X</text>
<text class="cjk" transform="translate(104.84 339) scale(1 1.0)" fill="#222" stroke="#222" style="font-size:17.33px;stroke-width:0.3px">电机驱动</text>
<text transform="translate(173.88 339) scale(1 1.0)" fill="#222" stroke="#222" style="font-size:17.6px">TMC2209</text>
<text transform="translate(244.9 472.2) scale(1 1.08)" fill="#3a3a3a" stroke="#3a3a3a" style="font-size:8.6px">X</text>
<text class="cjk" transform="translate(250.64 472.2) scale(1 1.08)" fill="#3a3a3a" stroke="#3a3a3a" style="font-size:8.6px">电机接口</text>
<text transform="translate(594.8 339) scale(1 1.0)" fill="#222" stroke="#222" style="font-size:17.6px">Y</text>
<text class="cjk" transform="translate(605.14 339) scale(1 1.0)" fill="#222" stroke="#222" style="font-size:17.33px;stroke-width:0.3px">电机驱动</text>
<text transform="translate(674.18 339) scale(1 1.0)" fill="#222" stroke="#222" style="font-size:17.6px">TMC2209</text>
<text transform="translate(740.1 467.3) scale(1 1.08)" fill="#3a3a3a" stroke="#3a3a3a" style="font-size:8.6px">Y</text>
<text class="cjk" transform="translate(745.84 467.3) scale(1 1.08)" fill="#3a3a3a" stroke="#3a3a3a" style="font-size:8.6px">电机接口</text>
</g>
</svg>
</body></html>
